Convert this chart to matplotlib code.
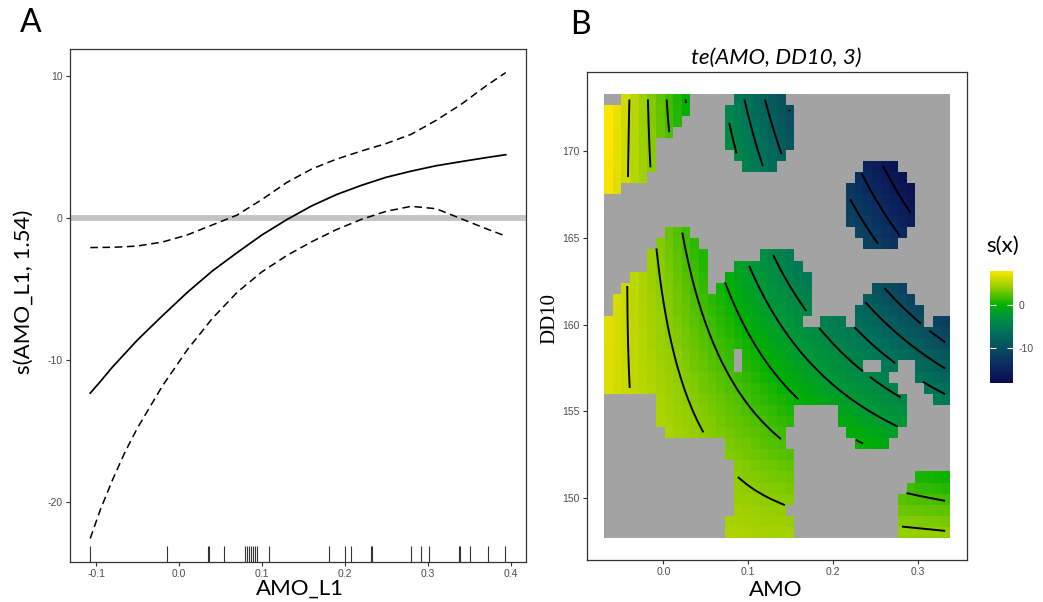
import numpy as np
import matplotlib
matplotlib.use("Agg")
import matplotlib.pyplot as plt
from matplotlib.colors import LinearSegmentedColormap, Normalize

# ---- panel A: s(AMO_L1) with +/- 2 se band and rug ----
amo_l1 = [-0.107, -0.095, -0.08, -0.065, -0.05, -0.02, 0.01, 0.04, 0.07, 0.10,
          0.13, 0.16, 0.19, 0.22, 0.25, 0.28, 0.31, 0.34, 0.37, 0.394]
fit = [-12.35, -11.55, -10.5, -9.55, -8.6, -6.9, -5.25, -3.75, -2.45, -1.2,
       -0.12, 0.85, 1.65, 2.3, 2.87, 3.3, 3.68, 3.97, 4.25, 4.46]
upper = [-2.09, -2.08, -2.07, -2.03, -1.98, -1.7, -1.2, -0.5, 0.2, 1.3,
         2.5, 3.45, 4.15, 4.72, 5.25, 5.9, 6.88, 8.0, 9.3, 10.25]
lower = [-22.6, -20.6, -18.45, -16.5, -14.8, -11.85, -9.3, -7.1, -5.25, -3.8,
         -2.65, -1.68, -0.82, -0.1, 0.47, 0.82, 0.65, -0.05, -0.75, -1.28]
rug_amo_l1 = [-0.107, -0.014, 0.0348, 0.036, 0.054, 0.080, 0.0824, 0.0848, 0.0872,
              0.0896, 0.092, 0.0944, 0.108, 0.181, 0.200, 0.207, 0.232, 0.2325,
              0.280, 0.292, 0.302, 0.338, 0.3393, 0.351, 0.372, 0.3934]

# ---- panel B: te(AMO, DD10) surface ----
amo_obs = [-0.0650, -0.0446, -0.0089, 0.1134, 0.2561, 0.3172, 0.0165, -0.0191,
           -0.0548, 0.0471, 0.0267, 0.0573, 0.0930, 0.1338, 0.1287, 0.1745,
           0.2000, 0.2663, 0.2459, 0.3325, 0.1083, 0.1185, 0.1134, -0.0140,
           0.1032, 0.1134]
dd10_obs = [170.12, 170.44, 173.00, 171.40, 166.91, 148.96, 163.06, 160.82,
            158.26, 159.22, 155.69, 155.69, 160.82, 161.78, 157.30, 157.62,
            157.94, 159.99, 155.05, 157.94, 153.45, 150.89, 148.00, 158.26,
            161.14, 155.37]
amo_knots = [-0.05, 0.0, 0.05, 0.10, 0.15, 0.20, 0.25, 0.30]
dd10_knots = [148, 153, 158, 163, 168, 173]
s_knots = [
    [6.5, 5.8, 5.4, 5.0, 4.85, 4.65, 4.5, 4.35],
    [6.4, 5.2, 4.0, 2.9, 1.75, 0.64, -0.5, -1.6],
    [6.2, 4.64, 2.77, 0.76, -0.94, -2.86, -5.2, -7.1],
    [6.4, 3.9, 1.0, -1.8, -4.5, -7.4, -10.05, -13.0],
    [6.6, 2.85, -0.7, -4.15, -7.8, -11.5, -14.7, -18.1],
    [6.85, 2.5, -2.1, -6.4, -10.4, -14.0, -17.5, -20.5],
]
contour_levels = [-16, -14, -12, -10, -8, -6, -4, -2, 0, 2, 4, 6]
cbar_ticks = [-10, 0]

W, H = 1043, 602
fig = plt.figure(figsize=(W / 100, H / 100), dpi=100)
plt.rcParams['font.family'] = ['Liberation Sans', 'DejaVu Sans']

TICK_C = '#4d4d4d'
LAB_FONT = 'Lato'


def px_axes(l, t, r, b):
    return fig.add_axes([l / W, 1 - b / H, (r - l) / W, (b - t) / H])


def style(ax):
    for sp in ax.spines.values():
        sp.set_color('#333333')
        sp.set_linewidth(0.9)
    ax.tick_params(length=3, width=0.8, color='#333333', labelsize=7.5,
                   labelcolor=TICK_C, pad=2)


# ---------------- panel A ----------------
axA = px_axes(69.5, 49.3, 526, 561.7)
axA.axhline(0, color='#c4c4c4', lw=4.2, zorder=1)
axA.plot(amo_l1, fit, color='black', lw=1.25, zorder=3)
axA.plot(amo_l1, upper, color='black', lw=1.1, ls=(0, (5, 3)), zorder=3)
axA.plot(amo_l1, lower, color='black', lw=1.1, ls=(0, (5, 3)), zorder=3)
axA.vlines(rug_amo_l1, 0, 0.03, transform=axA.get_xaxis_transform(),
           color='#333333', lw=0.8)

xlo, xhi = min(rug_amo_l1), max(rug_amo_l1)
ylo, yhi = min(lower), max(upper)
axA.set_xlim(xlo - 0.05 * (xhi - xlo), xhi + 0.05 * (xhi - xlo))
axA.set_ylim(ylo - 0.05 * (yhi - ylo), yhi + 0.05 * (yhi - ylo))
axA.set_xticks([-0.1, 0.0, 0.1, 0.2, 0.3, 0.4])
axA.set_xticklabels(['-0.1', '0.0', '0.1', '0.2', '0.3', '0.4'])
axA.set_yticks([-20, -10, 0, 10])
axA.set_yticklabels(['-20', '-10', '0', '10'])
style(axA)

# ---------------- panel B ----------------
n = 40
xmin, xmax = min(amo_obs), max(amo_obs)
ymin, ymax = min(dd10_obs), max(dd10_obs)
gx = np.linspace(xmin, xmax, n)
gy = np.linspace(ymin, ymax, n)
GX, GY = np.meshgrid(gx, gy)


def sx(v):
    return (np.asarray(v) - 0.13) / 0.2


def sy(v):
    return (np.asarray(v) - 160.5) / 12.5


KX, KY = np.meshgrid(amo_knots, dd10_knots)
deg = [3, 3]
V = np.polynomial.polynomial.polyvander2d(sx(KX.ravel()), sy(KY.ravel()), deg)
coef, *_ = np.linalg.lstsq(V, np.asarray(s_knots).ravel(), rcond=None)
S = (np.polynomial.polynomial.polyvander2d(sx(GX.ravel()), sy(GY.ravel()), deg)
     @ coef).reshape(n, n)

# exclude grid cells too far from any observation (unit-square distance)
ux = (GX - xmin) / (xmax - xmin)
uy = (GY - ymin) / (ymax - ymin)
ox = (np.asarray(amo_obs) - xmin) / (xmax - xmin)
oy = (np.asarray(dd10_obs) - ymin) / (ymax - ymin)
dist = np.sqrt((ux[..., None] - ox) ** 2 + (uy[..., None] - oy) ** 2).min(axis=-1)
Sm = np.ma.masked_where(dist > 0.1, S)

vmin, vmax = -18, 8
cnodes = [(-18, '#0b0b4e'), (-14, '#0b2a62'), (-10, '#0a4d5e'), (-6, '#00745a'),
          (-2, '#009a35'), (0, '#00b000'), (4, '#8dcd00'), (8, '#fee600')]
cmap = LinearSegmentedColormap.from_list(
    'sx', [((v - vmin) / (vmax - vmin), c) for v, c in cnodes])
cmap.set_bad('#a3a3a3')

dx = (xmax - xmin) / (n - 1)
dy = (ymax - ymin) / (n - 1)
ext = [xmin - dx / 2, xmax + dx / 2, ymin - dy / 2, ymax + dy / 2]

axB = px_axes(586.7, 71.7, 966.7, 560)
im = axB.imshow(Sm, origin='lower', extent=ext, aspect='auto', cmap=cmap,
                norm=Normalize(vmin, vmax), interpolation='nearest')
axB.contour(GX, GY, Sm, levels=contour_levels, colors='black', linewidths=1.4,
            linestyles='solid', negative_linestyles='solid')
ex, ey = ext[1] - ext[0], ext[3] - ext[2]
axB.set_xlim(ext[0] - 0.05 * ex, ext[1] + 0.05 * ex)
axB.set_ylim(ext[2] - 0.05 * ey, ext[3] + 0.05 * ey)
axB.set_xticks([0.0, 0.1, 0.2, 0.3])
axB.set_xticklabels(['0.0', '0.1', '0.2', '0.3'])
axB.set_yticks([150, 155, 160, 165, 170])
style(axB)

# colour bar
cax = fig.add_axes([990 / W, 1 - 382.7 / H, 23.3 / W, 112 / H])
cb = fig.colorbar(im, cax=cax, ticks=cbar_ticks)
cb.outline.set_visible(False)
cax.tick_params(axis='y', direction='in', length=4, width=0.8, color='white',
                left=True, right=True, labelsize=7.5, labelcolor=TICK_C, pad=4)
cax.set_yticklabels(['-10', '0'])

# ---------------- text ----------------
fig.text(31 / W, 1 - 23.5 / H, 'A', fontsize=23, family=LAB_FONT,
         ha='center', va='center')
fig.text(580.5 / W, 1 - 25 / H, 'B', fontsize=23, family=LAB_FONT,
         ha='center', va='center')
fig.text(776.7 / W, 1 - 58 / H, 'te(AMO, DD10, 3)', fontsize=16,
         family=LAB_FONT, style='italic', ha='center', va='center')
fig.text(300 / W, 1 - 595 / H, 'AMO_L1', fontsize=16, family=LAB_FONT,
         ha='center', va='baseline')
fig.text(776 / W, 1 - 596 / H, 'AMO', fontsize=16, family=LAB_FONT,
         ha='center', va='baseline')
fig.text(23.7 / W, 1 - 292 / H, 's(AMO_L1, 1.54)', fontsize=16,
         family=LAB_FONT, rotation=90, ha='center', va='center')
fig.text(550 / W, 1 - 318 / H, 'DD10', fontsize=15, family='Liberation Serif',
         rotation=90, ha='center', va='center')
fig.text(1003 / W, 1 - 246 / H, 's(x)', fontsize=16, family=LAB_FONT,
         ha='center', va='center')

fig.savefig('out.png', dpi=100)
